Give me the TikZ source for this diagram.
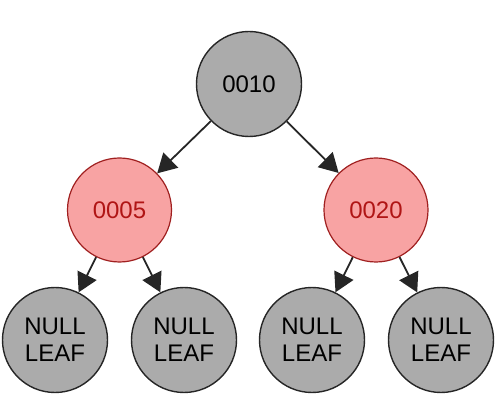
\documentclass[tikz,border=0pt]{standalone}
\usepackage{fontspec}
\setmainfont{Liberation Sans}
\usetikzlibrary{arrows.meta}
\definecolor{nodegrey}{HTML}{ABABAB}
\definecolor{nodered}{HTML}{F8A3A3}
\definecolor{redline}{HTML}{A02020}
\definecolor{redtext}{HTML}{B01515}
\begin{document}
\begin{tikzpicture}[x=1pt,y=-1pt,
  greynode/.style={circle,draw=black!85,line width=1.4pt,fill=nodegrey,minimum size=105pt,inner sep=0pt,font=\fontsize{24}{27}\selectfont,align=center},
  rednode/.style={circle,draw=redline,line width=1.2pt,fill=nodered,minimum size=104pt,inner sep=0pt,font=\fontsize{24}{27}\selectfont,text=redtext},
  link/.style={draw=black!85,line width=1.8pt,-{Triangle[length=19pt,width=21pt]}}]
\useasboundingbox (0,0) rectangle (503,411);
\node[greynode] (root) at (249,84) {0010};
\node[rednode] (l) at (119.5,210) {0005};
\node[rednode] (r) at (376,210) {0020};
\node[greynode] (ll) at (55,340) {NULL\\LEAF};
\node[greynode] (lr) at (184,340) {NULL\\LEAF};
\node[greynode] (rl) at (312,340) {NULL\\LEAF};
\node[greynode] (rr) at (441,340) {NULL\\LEAF};
\draw[link] (root) -- (l);
\draw[link] (root) -- (r);
\draw[link] (l) -- (ll);
\draw[link] (l) -- (lr);
\draw[link] (r) -- (rl);
\draw[link] (r) -- (rr);
\end{tikzpicture}
\end{document}
